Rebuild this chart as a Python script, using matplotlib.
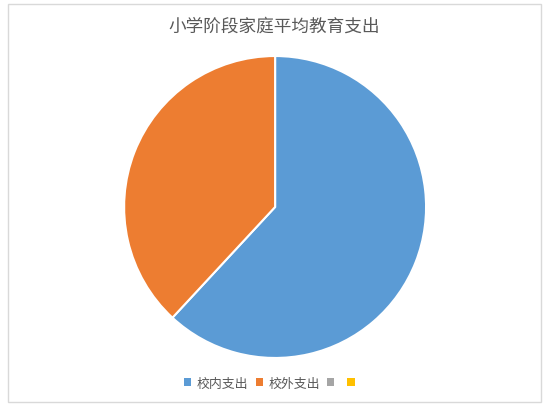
import matplotlib
matplotlib.use("Agg")
import matplotlib.pyplot as plt
from matplotlib.patches import Patch, Rectangle

plt.rcParams['font.family'] = ['Noto Sans CJK SC', 'DejaVu Sans']

title = "小学阶段家庭平均教育支出"
categories = ["校内支出", "校外支出", "", ""]
values = [61.9, 38.1, 0, 0]
colors = ["#5B9BD5", "#ED7D31", "#A5A5A5", "#FFC000"]

fig = plt.figure(figsize=(5.48, 4.14), dpi=100)
fig.patches.append(Rectangle((8/548, 1-403/414), (541-8)/548, (403-5)/414,
                             transform=fig.transFigure, fill=False,
                             edgecolor="#D9D9D9", linewidth=1.0))

ax = fig.add_axes([0.502 - 0.2755, 0.4976 - 0.3647, 0.551, 0.7294])
pie_vals = [v for v in values if v > 0]
pie_cols = [c for v, c in zip(values, colors) if v > 0]
ax.pie(pie_vals, colors=pie_cols, startangle=90, counterclock=False,
       wedgeprops=dict(edgecolor="white", linewidth=1.5))
ax.set_aspect("equal")
ax.set_xlim(-1, 1)
ax.set_ylim(-1, 1)

fig.text(274/548, 1-27/414, title, ha="center", va="center",
         fontsize=12.7, color="#595959")

handles = [Patch(facecolor=c, edgecolor="none") for c in colors]
fig.legend(handles, categories, loc="center", bbox_to_anchor=(272/548, 1-384/414),
           ncol=4, frameon=False, fontsize=9.3, labelcolor="#595959",
           handlelength=0.55, handleheight=0.55, handletextpad=0.4,
           columnspacing=0.6)

fig.savefig("out.png", dpi=100)
